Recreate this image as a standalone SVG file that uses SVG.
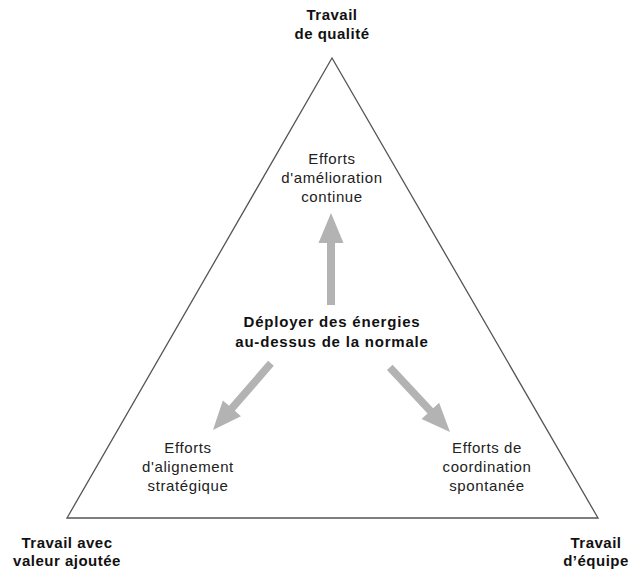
<svg xmlns="http://www.w3.org/2000/svg" width="632" height="569" viewBox="0 0 632 569">
  <style>
    .lbl { font-family: "Liberation Sans", Arial, sans-serif; font-size: 15px; letter-spacing: 0.6px; fill: #222; text-anchor: middle; }
    .corner { font-family: "Liberation Sans", Arial, sans-serif; font-size: 15px; letter-spacing: 0.5px; font-weight: bold; fill: #111; text-anchor: middle; }
    .core { font-family: "Liberation Sans", Arial, sans-serif; font-size: 15px; letter-spacing: 0.8px; font-weight: bold; fill: #111; text-anchor: middle; }
    .arrow { fill: #b3b3b3; }
  </style>
  <rect width="632" height="569" fill="#fff"/>

  <!-- outer triangle -->
  <g id="triangle">
    <polygon points="332,58 67,518 598,518" fill="none" stroke="#555" stroke-width="1.3" stroke-linejoin="miter"/>
  </g>

  <!-- corner labels -->
  <g id="corner-top">
    <text class="corner" x="332" y="20">Travail</text>
    <text class="corner" x="332" y="39">de qualité</text>
  </g>
  <g id="corner-left">
    <text class="corner" x="67" y="548">Travail avec</text>
    <text class="corner" x="67" y="566">valeur ajoutée</text>
  </g>
  <g id="corner-right">
    <text class="corner" x="596" y="548">Travail</text>
    <text class="corner" x="596" y="566">d’équipe</text>
  </g>

  <!-- inner nodes -->
  <g id="center">
    <text class="core" x="332" y="327">Déployer des énergies</text>
    <text class="core" x="332" y="347">au-dessus de la normale</text>
  </g>
  <g id="amelioration">
    <text class="lbl" x="332" y="164">Efforts</text>
    <text class="lbl" x="332" y="183">d'amélioration</text>
    <text class="lbl" x="332" y="202">continue</text>
  </g>
  <g id="alignement">
    <text class="lbl" x="188" y="453">Efforts</text>
    <text class="lbl" x="188" y="472">d'alignement</text>
    <text class="lbl" x="188" y="491">stratégique</text>
  </g>
  <g id="coordination">
    <text class="lbl" x="487" y="453">Efforts de</text>
    <text class="lbl" x="487" y="472">coordination</text>
    <text class="lbl" x="487" y="491">spontanée</text>
  </g>

  <!-- block arrows from the centre to each effort -->
  <defs>
    <!-- arrow pointing along +x, tip at origin -->
    <path id="blockArrow" d="M0,0 L-30,-12.5 L-30,-4 L-92,-4 L-92,4 L-30,4 L-30,12.5 Z"/>
  </defs>
  <g id="connectors">
    <use href="#blockArrow" class="arrow" transform="translate(331,213) rotate(-90)"/>
    <use href="#blockArrow" class="arrow" transform="translate(213,430) rotate(131) scale(0.96)"/>
    <use href="#blockArrow" class="arrow" transform="translate(450,432) rotate(47) scale(0.96)"/>
  </g>
</svg>
